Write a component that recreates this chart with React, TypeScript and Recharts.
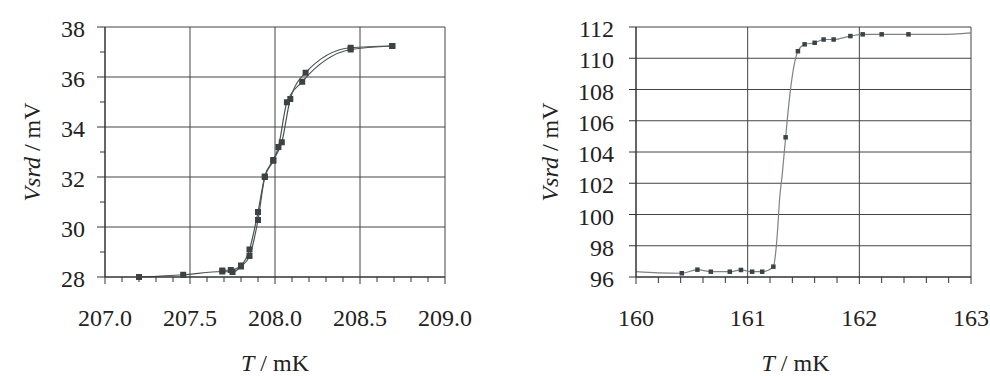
import React from "react";
import { ComposedChart, Line, XAxis, YAxis, ReferenceLine, Label } from "recharts";

// left panel: two sweeps through the transition near 208 mK
const sweepAT = [207.2, 207.46, 207.69, 207.75, 207.8, 207.85, 207.9, 207.94, 207.99, 208.02, 208.07, 208.16, 208.445, 208.69];
const sweepAV = [28.0, 28.09, 28.22, 28.2, 28.42, 28.84, 30.28, 32.0, 32.65, 33.2, 34.99, 35.81, 37.1, 37.24];
const sweepBT = [207.69, 207.74, 207.8, 207.85, 207.9, 207.94, 207.99, 208.04, 208.09, 208.18, 208.445, 208.69];
const sweepBV = [28.26, 28.28, 28.46, 29.1, 30.6, 32.02, 32.68, 33.39, 35.12, 36.17, 37.17, 37.24];

// right panel: measured points and fitted curve near 161 mK
const pointT = [160.41, 160.55, 160.67, 160.84, 160.94, 161.04, 161.13, 161.23, 161.34, 161.45, 161.51, 161.6, 161.68, 161.77, 161.92, 162.03, 162.2, 162.44];
const pointV = [96.24, 96.47, 96.34, 96.34, 96.45, 96.34, 96.34, 96.66, 104.94, 110.45, 110.89, 110.99, 111.2, 111.2, 111.42, 111.53, 111.53, 111.53];
const fitT = [160.0, 160.2, 160.41, 160.55, 160.67, 160.84, 160.94, 161.04, 161.13, 161.23, 161.25, 161.27, 161.285, 161.31, 161.34, 161.38, 161.42, 161.45, 161.51, 161.6, 161.68, 161.77, 161.92, 162.03, 162.2, 162.44, 162.73, 163.0];
const fitV = [96.34, 96.27, 96.24, 96.47, 96.34, 96.34, 96.45, 96.34, 96.34, 96.66, 97.5, 99.2, 100.9, 102.6, 104.94, 107.8, 109.7, 110.45, 110.89, 110.99, 111.2, 111.2, 111.42, 111.53, 111.53, 111.53, 111.53, 111.63];

// ticks
const leftXMajor = [207.0, 207.5, 208.0, 208.5, 209.0];
const leftXMinor = [207.1, 207.2, 207.3, 207.4, 207.6, 207.7, 207.8, 207.9, 208.1, 208.2, 208.3, 208.4, 208.6, 208.7, 208.8, 208.9];
const leftYMajor = [28, 30, 32, 34, 36, 38];
const leftYMinor = [29, 31, 33, 35, 37];
const rightXMajor = [160, 161, 162, 163];
const rightXMinor = [160.2, 160.4, 160.6, 160.8, 161.2, 161.4, 161.6, 161.8, 162.2, 162.4, 162.6, 162.8];
const rightYMajor = [96, 98, 100, 102, 104, 106, 108, 110, 112];

const zip = (ts: number[], vs: number[]) => ts.map((t, i) => ({ t, v: vs[i] }));
const sweepA = zip(sweepAT, sweepAV);
const sweepB = zip(sweepBT, sweepBV);
const points = zip(pointT, pointV);
const fit = zip(fitT, fitV);

const FONT = "'Liberation Serif', 'Times New Roman', Times, serif";
const TEXT = { fontFamily: FONT, fontSize: 24, fill: "#222" };
const AXIS = "#333";
const GRID = "#444";
const MARK = "#3b4345";

const isIn = (v: number, list: number[]) => list.some((m) => Math.abs(m - v) < 1e-6);

const makeXTick = (major: number[], majorLen: number, minorLen: number, digits: number) => (props: any) => {
  const { x, y, payload } = props;
  const isMajor = isIn(payload.value, major);
  return (
    <g>
      <line x1={x} x2={x} y1={y} y2={y + (isMajor ? majorLen : minorLen)} stroke={AXIS} />
      {isMajor && (
        <text x={x} y={y + 49} textAnchor="middle" style={TEXT}>
          {payload.value.toFixed(digits)}
        </text>
      )}
    </g>
  );
};

const makeYTick = (major: number[], majorLen: number, minorLen: number, gap: number) => (props: any) => {
  const { x, y, payload } = props;
  const isMajor = isIn(payload.value, major);
  return (
    <g>
      <line x1={x - (isMajor ? majorLen : minorLen)} x2={x} y1={y} y2={y} stroke={AXIS} />
      {isMajor && (
        <text x={x - gap} y={y + 10} textAnchor="end" style={TEXT}>
          {payload.value}
        </text>
      )}
    </g>
  );
};

const yTitle = (dist: number) => (props: any) => {
  const vb = props.viewBox;
  const cx = vb.x + vb.width - dist;
  const cy = vb.y + vb.height / 2;
  return (
    <text x={cx} y={cy + 8} textAnchor="middle" transform={`rotate(-90, ${cx}, ${cy})`} style={TEXT}>
      <tspan fontStyle="italic">Vsrd</tspan>
      <tspan> / mV</tspan>
    </text>
  );
};

const xTitle = (shift: number) => (props: any) => {
  const vb = props.viewBox;
  return (
    <text x={vb.x + vb.width / 2 + shift} y={vb.y + 94} textAnchor="middle" style={TEXT}>
      <tspan fontStyle="italic">T</tspan>
      <tspan> / mK</tspan>
    </text>
  );
};

const square = (size: number) => (p: any) => (
  <rect key={p.index} x={p.cx - size / 2} y={p.cy - size / 2} width={size} height={size} fill={MARK} />
);

const sortNums = (a: number[], b: number[]) => [...a, ...b].sort((m, n) => m - n);

function LeftPanel() {
  return (
    <ComposedChart width={485} height={376} margin={{ top: 27, right: 40, bottom: 39, left: 25 }}>
      <XAxis
        type="number"
        dataKey="t"
        domain={[207, 209]}
        ticks={sortNums(leftXMajor, leftXMinor)}
        interval={0}
        tickSize={0}
        tickMargin={0}
        tickLine={false}
        tick={makeXTick(leftXMajor, 7, 5, 1)}
        axisLine={{ stroke: AXIS, strokeWidth: 1.5 }}
        height={60}
      >
        <Label content={xTitle(0)} />
      </XAxis>
      <YAxis
        type="number"
        dataKey="v"
        domain={[28, 38]}
        ticks={sortNums(leftYMajor, leftYMinor)}
        interval={0}
        tickSize={0}
        tickMargin={0}
        tickLine={false}
        tick={makeYTick(leftYMajor, 8, 5, 20)}
        axisLine={{ stroke: AXIS, strokeWidth: 1.5 }}
        width={80}
      >
        <Label content={yTitle(73)} />
      </YAxis>
      {leftXMajor.slice(1).map((v) => (
        <ReferenceLine key={"x" + v} x={v} stroke={GRID} strokeWidth={1} />
      ))}
      {leftYMajor.slice(1).map((v) => (
        <ReferenceLine key={"y" + v} y={v} stroke={GRID} strokeWidth={1} />
      ))}
      <Line data={sweepA} dataKey="v" type="monotone" stroke="#4d5456" strokeWidth={1.2} dot={square(6)} isAnimationActive={false} />
      <Line data={sweepB} dataKey="v" type="monotone" stroke="#4d5456" strokeWidth={1.2} dot={square(6)} isAnimationActive={false} />
    </ComposedChart>
  );
}

function RightPanel() {
  return (
    <ComposedChart width={490} height={376} margin={{ top: 27, right: 19, bottom: 39, left: 36 }}>
      <XAxis
        type="number"
        dataKey="t"
        domain={[160, 163]}
        ticks={sortNums(rightXMajor, rightXMinor)}
        interval={0}
        tickSize={0}
        tickMargin={0}
        tickLine={false}
        tick={makeXTick(rightXMajor, 7, 6, 0)}
        axisLine={{ stroke: AXIS, strokeWidth: 1.5 }}
        height={60}
      >
        <Label content={xTitle(-8)} />
      </XAxis>
      <YAxis
        type="number"
        dataKey="v"
        domain={[96, 112]}
        ticks={rightYMajor}
        interval={0}
        tickSize={0}
        tickMargin={0}
        tickLine={false}
        tick={makeYTick(rightYMajor, 7, 0, 22)}
        axisLine={{ stroke: AXIS, strokeWidth: 1.5 }}
        width={100}
      >
        <Label content={yTitle(86)} />
      </YAxis>
      {rightXMajor.slice(1).map((v) => (
        <ReferenceLine key={"x" + v} x={v} stroke={GRID} strokeWidth={1} />
      ))}
      {rightYMajor.slice(1).map((v) => (
        <ReferenceLine key={"y" + v} y={v} stroke={GRID} strokeWidth={1} />
      ))}
      <Line data={fit} dataKey="v" type="monotone" stroke="#7b8385" strokeWidth={1.2} dot={false} isAnimationActive={false} />
      <Line data={points} dataKey="v" type="linear" stroke="none" dot={square(4.5)} isAnimationActive={false} />
    </ComposedChart>
  );
}

export default function App() {
  return (
    <div style={{ position: "absolute", left: 0, top: 0, width: 990, height: 376, background: "#fff" }}>
      <div style={{ position: "absolute", left: 0, top: 0 }}>
        <LeftPanel />
      </div>
      <div style={{ position: "absolute", left: 500, top: 0 }}>
        <RightPanel />
      </div>
    </div>
  );
}
